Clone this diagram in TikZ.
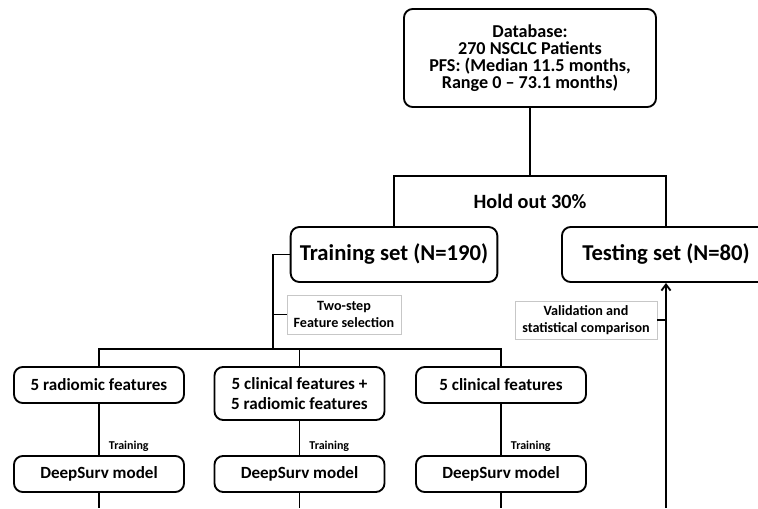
\documentclass[tikz,border=0pt]{standalone}
\usepackage{fontspec}
\setmainfont{Carlito}
\usetikzlibrary{arrows.meta,positioning,calc}
\tikzset{
  block/.style={draw=black,line width=1.4pt,rounded corners=6.5pt,align=center,
    inner sep=0pt,minimum width=127.5pt,minimum height=27pt,
    font=\bfseries\fontsize{12.8}{15.6}\selectfont},
  setbox/.style={block,minimum width=155pt,minimum height=41.25pt,
    font=\bfseries\fontsize{17}{21}\selectfont},
  note/.style={draw=black!22,line width=0.7pt,fill=white,align=center,
    inner sep=0pt,font=\bfseries\fontsize{10.6}{12.8}\selectfont},
  tag/.style={font=\bfseries\fontsize{9}{10}\selectfont,inner sep=0pt},
  link/.style={draw=black,line width=1.4pt},
  arrow/.style={link,-{Straight Barb[length=1.6mm,width=2.4mm]}}
}
\begin{document}
\begin{tikzpicture}[x=0.75pt,y=-0.75pt]
  \useasboundingbox (0,0) rectangle (758,508);
  \clip (0,0) rectangle (758,508);
  % top of the split
  \node[block,minimum width=189pt,minimum height=73.5pt,
    font=\bfseries\fontsize{13.6}{12.6}\selectfont] (db) at (530,58)
    {Database:\\270 NSCLC Patients\\PFS: (Median 11.5 months,\\Range 0 -- 73.1 months)};
  \coordinate (hsplit) at (530,176);
  \node[font=\bfseries\fontsize{15.2}{18}\selectfont] (hold) at (530,201) {Hold out 30\%};
  \node[setbox] (train) at (394,254.5) {Training set (N=190)};
  \node[setbox,minimum width=156pt] (test) at (666,254.5) {Testing set (N=80)};
  % notes on the two branches
  \node[note,minimum width=85.5pt,minimum height=29.25pt] (feat) at (344,314.5)
    {Two-step\\Feature selection};
  \node[note,minimum width=106.5pt,minimum height=28.5pt] (valid) at (586,320)
    {Validation and\\statistical comparison};
  \coordinate (bus) at (273,349);
  % feature sets and models
  \node[block] (f1) at (99,385) {5 radiomic features};
  \node[block,minimum height=39.75pt] (f2) at (299.5,393.5) {5 clinical features +\\5 radiomic features};
  \node[block] (f3) at (501,385) {5 clinical features};
  \node[block] (m1) at (99,474) {DeepSurv model};
  \node[block] (m2) at (299.5,474) {DeepSurv model};
  \node[block] (m3) at (501,474) {DeepSurv model};
  \coordinate (bot) at (666,508);

  \draw[link] (db.south) -- (hsplit);
  \draw[link] (train.north) |- (hsplit) -| (test.north);
  \draw[link] (train.west) -| (bus);
  \draw[link] (feat.west) -- (feat.west -| bus);
  \draw[link] (f1.north) |- (bus) -| (f3.north);
  \draw[link] (f2.north) -- (f2.north |- bus);
  \foreach \f/\m in {f1/m1,f2/m2,f3/m3}{
    \draw[link] (\f) -- (\m) node[tag,pos=1,anchor=south west,xshift=6.75pt,yshift=2pt] {Training};
    \draw[link] (\m.south) -- (\m.south |- bot);
  }
  \draw[arrow] (bot) -- (test.south);
  \draw[link] (valid.east) -- (valid.east -| test.south);
\end{tikzpicture}
\end{document}
